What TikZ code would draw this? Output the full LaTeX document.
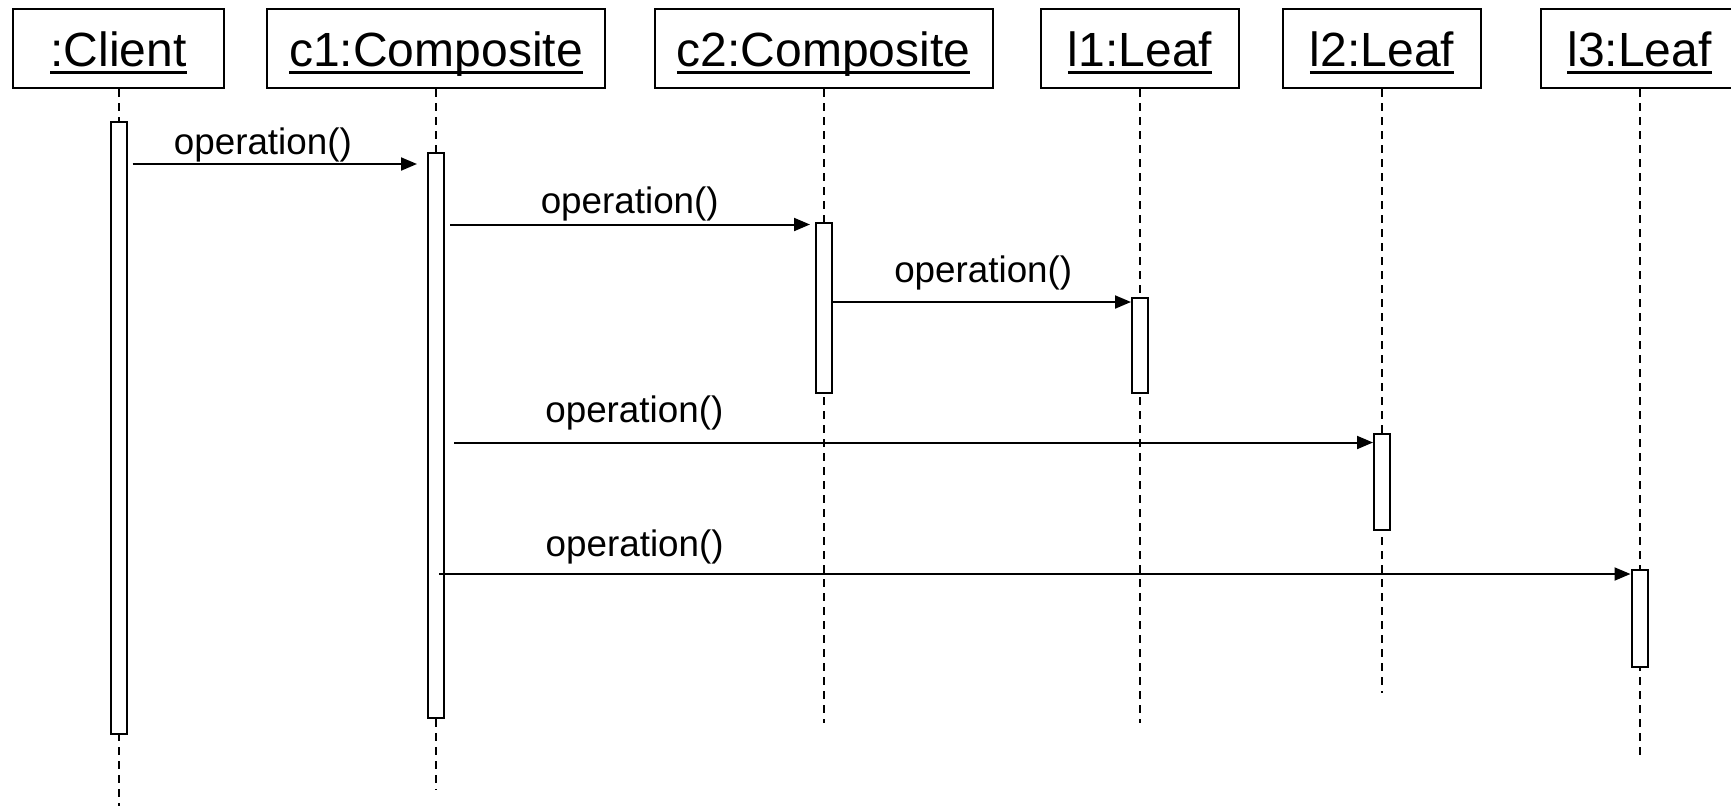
\documentclass[tikz,border=0pt]{standalone}
\usepackage{fontspec}
\setmainfont{Liberation Sans}
\usetikzlibrary{arrows.meta}

% object name, underlined at a fixed depth so descenders cross the line
\newcommand{\objname}[1]{\setbox0\hbox{#1}\rlap{\rule[-0.165em]{\wd0}{0.07em}}\box0}

\tikzset{
	obj/.style={draw, line width=1pt, inner sep=0pt, minimum height=39.5pt,
		text height=21.6pt, text depth=4.1pt, font=\fontsize{24}{28}\selectfont},
	act/.style={draw, fill=white, line width=1pt, inner sep=0pt,
		minimum width=8pt, anchor=north},
	lifeline/.style={line width=1pt, dash pattern=on 4pt off 3pt},
	msg/.style={-{Triangle[length=8pt, width=6.5pt]}, line width=1pt},
	call/.style={above, inner sep=0.6pt, font=\fontsize{18.4}{22}\selectfont},
}

\begin{document}
\begin{tikzpicture}[x=0.5pt, y=-0.5pt]
	\useasboundingbox (0,0) rectangle (1731,805);

	% objects
	\node[obj, minimum width=105.5pt] (client) at (118.5,48.5) {\objname{:Client}};
	\node[obj, minimum width=169pt] (c1) at (436,48.5) {\objname{c1:Composite}};
	\node[obj, minimum width=169pt] (c2) at (823.5,48.5) {\objname{c2:Composite}};
	\node[obj, minimum width=99pt] (l1) at (1140,48.5) {\objname{l1:Leaf}};
	\node[obj, minimum width=99pt] (l2) at (1382,48.5) {\objname{l2:Leaf}};
	\node[obj, minimum width=99pt] (l3) at (1639.5,48.5) {\objname{l3:Leaf}};

	% lifelines
	\foreach \o/\e in {client/812, c1/790, c2/723, l1/723, l2/693, l3/759}
		\draw[lifeline] (\o.south) -- (\o.south |- 0,\e);

	% activations
	\node[act, minimum height=306pt] (clbar) at (client.south |- 0,121) {};
	\node[act, minimum height=282.5pt] (c1bar) at (c1.south |- 0,152) {};
	\node[act, minimum height=85pt] (c2bar) at (c2.south |- 0,222) {};
	\node[act, minimum height=47.5pt] (l1bar) at (l1.south |- 0,297) {};
	\node[act, minimum height=48pt] (l2bar) at (l2.south |- 0,433) {};
	\node[act, minimum height=48.5pt] (l3bar) at (l3.south |- 0,569) {};

	% messages
	\coordinate (m1) at ([yshift=-6pt]c1bar.north west);
	\coordinate (m2) at ([yshift=-1.25pt]c2bar.north west);
	\coordinate (m3) at ([yshift=-2.5pt]l1bar.north west);
	\coordinate (m4) at ([yshift=-4.75pt]l2bar.north west);
	\coordinate (m5) at ([yshift=-2.5pt]l3bar.north west);

	\draw[msg, shorten <=2.5pt, shorten >=5pt] (clbar.east |- m1)
		-- node[call, pos=0.452] {operation()} (m1);
	\draw[msg, shorten <=2.5pt, shorten >=2.25pt] (c1bar.east |- m2)
		-- node[call, yshift=0.5pt] {operation()} (m2);
	\draw[msg] (c2bar.east |- m3)
		-- node[call, pos=0.505, yshift=5pt] {operation()} (m3);
	\draw[msg, shorten <=4.5pt] (c1bar.east |- m4)
		-- node[call, pos=0.204, yshift=5pt] {operation()} (m4);
	\draw[msg, shorten <=-3pt] (c1bar.east |- m5)
		-- node[call, pos=0.16, yshift=4pt] {operation()} (m5);
\end{tikzpicture}
\end{document}
